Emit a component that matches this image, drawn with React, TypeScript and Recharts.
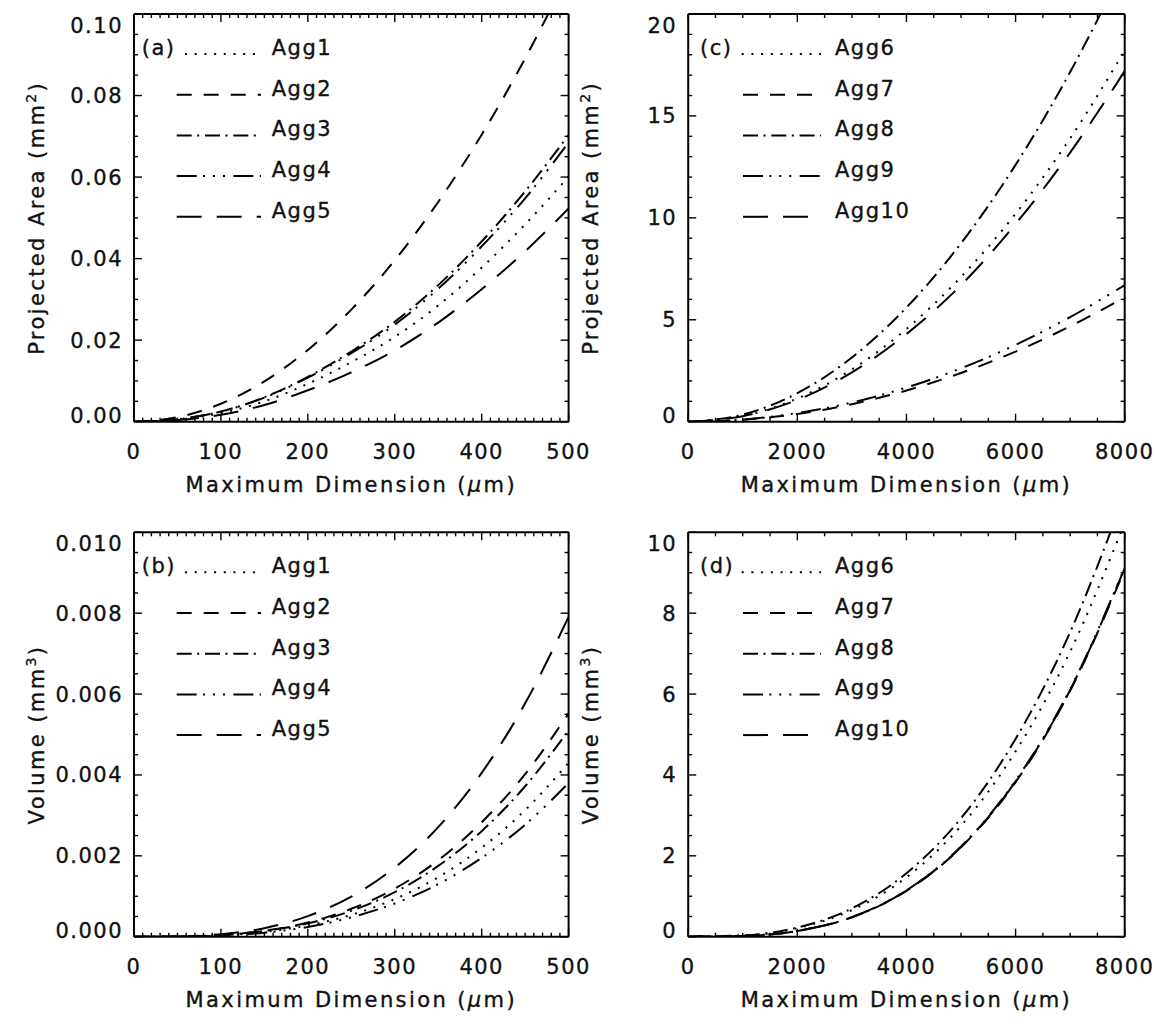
import React from 'react';
import { LineChart, Line, XAxis, YAxis, Legend } from 'recharts';

const FONT = '"DejaVu Sans", "Liberation Sans", sans-serif';

// maximum dimension samples (µm)
const dimSmall = [0, 50, 100, 150, 200, 250, 300, 350, 400, 450, 500];
const dimLarge = [0, 1000, 2000, 3000, 4000, 5000, 6000, 7000, 8000];

// (a) projected area, mm^2
const areaAgg1 = [0, 0.0005, 0.0021, 0.005, 0.0093, 0.0146, 0.0208, 0.0285, 0.0378, 0.0484, 0.0601];
const areaAgg2 = [0, 0.0011, 0.0044, 0.0099, 0.0176, 0.0275, 0.0396, 0.0539, 0.0704, 0.0891, 0.11];
const areaAgg3 = [0, 0.0006, 0.0025, 0.006, 0.011, 0.0172, 0.0245, 0.0335, 0.0442, 0.0565, 0.0703];
const areaAgg4 = [0, 0.0006, 0.0025, 0.0059, 0.0108, 0.0168, 0.0238, 0.0326, 0.043, 0.0548, 0.0685];
const areaAgg5 = [0, 0.0004, 0.0017, 0.0041, 0.0077, 0.0121, 0.0175, 0.0243, 0.0325, 0.0418, 0.0523];

// (b) volume, mm^3
const volAgg1 = [0, 0.000005, 0.00004, 0.00012, 0.00028, 0.00054, 0.00093, 0.00147, 0.0022, 0.00313, 0.0043];
const volAgg2 = [0, 0.000006, 0.00004, 0.00015, 0.00035, 0.00069, 0.00119, 0.00189, 0.00283, 0.00402, 0.00552];
const volAgg3 = [0, 0.000005, 0.00004, 0.00014, 0.00033, 0.00064, 0.0011, 0.00175, 0.00261, 0.00372, 0.0051];
const volAgg4 = [0, 0.000004, 0.00003, 0.0001, 0.00024, 0.00048, 0.00082, 0.0013, 0.00195, 0.00277, 0.0038];
const volAgg5 = [0, 0.00001, 0.00006, 0.00021, 0.00051, 0.00099, 0.00171, 0.00271, 0.00405, 0.00577, 0.00791];

// (c) projected area, mm^2
const areaAgg6 = [0, 0.28, 1.14, 2.56, 4.55, 7.1, 10.2, 13.9, 18.2];
const areaAgg7 = [0, 0.1, 0.38, 0.86, 1.53, 2.39, 3.44, 4.68, 6.1];
const areaAgg8 = [0, 0.35, 1.4, 3.15, 5.6, 8.75, 12.6, 17.15, 22.4];
const areaAgg9 = [0, 0.105, 0.42, 0.94, 1.675, 2.62, 3.77, 5.13, 6.7];
const areaAgg10 = [0, 0.27, 1.07, 2.42, 4.3, 6.7, 9.7, 13.2, 17.2];

// (d) volume, mm^3
const volAgg6 = [0, 0.03, 0.211, 0.657, 1.47, 2.74, 4.58, 7.05, 10.24];
const volAgg7 = [0, 0.018, 0.141, 0.481, 1.135, 2.21, 3.82, 6.08, 9.08];
const volAgg8 = [0, 0.032, 0.226, 0.7, 1.57, 2.93, 4.89, 7.53, 10.94];
const volAgg9 = [0, 0.018, 0.143, 0.484, 1.145, 2.23, 3.86, 6.12, 9.13];
const volAgg10 = [0, 0.018, 0.142, 0.482, 1.14, 2.22, 3.84, 6.1, 9.11];

// tick labels
const xTicksSmall = [0, 100, 200, 300, 400, 500];
const xTicksLarge = [0, 2000, 4000, 6000, 8000];
const yTicksA = [0, 0.02, 0.04, 0.06, 0.08, 0.1];
const yTicksB = [0, 0.002, 0.004, 0.006, 0.008, 0.01];
const yTicksC = [0, 5, 10, 15, 20];
const yTicksD = [0, 2, 4, 6, 8, 10];

const namesLeft = ['Agg1', 'Agg2', 'Agg3', 'Agg4', 'Agg5'];
const namesRight = ['Agg6', 'Agg7', 'Agg8', 'Agg9', 'Agg10'];

// IDL line styles: dotted, dashed, dash-dot, dash-dot-dot-dot, long dashes
const dashes = ['2 7.7', '15 12', '15 5.5 2 5.8', '20 6.3 2 8 2 8 2 8.4', '25 15'];

// text look: a touch heavier than plain DejaVu, like the vector font of the original
const txt = { fontSize: 21, fontFamily: FONT, fill: '#111', stroke: '#111', strokeWidth: 0.35 };

const buildRows = (xs: number[], series: number[][]) =>
  xs.map((d, i) => {
    const row: Record<string, number> = { d };
    series.forEach((s, k) => (row['s' + k] = s[i]));
    return row;
  });

// majors plus n-1 minor ticks in each interval
const withMinor = (majors: number[], n: number) => {
  const out: number[] = [];
  for (let i = 0; i < majors.length - 1; i++) {
    const a = majors[i];
    const step = (majors[i + 1] - a) / n;
    for (let k = 0; k < n; k++) out.push(Number((a + k * step).toFixed(8)));
  }
  out.push(majors[majors.length - 1]);
  return out;
};

const isIn = (list: number[], v: number) => list.some((m) => Math.abs(m - v) < 1e-9);

const makeTick = (side: string, majors: number[], fmt: (v: number) => string, dom: number[]) => (props: any) => {
  const { x, y, payload } = props;
  const v = payload.value;
  const major = isIn(majors, v);
  const len = major ? 8 : 4;
  const st = { stroke: '#000', strokeWidth: 1.4 };
  let line = null;
  let label = null;
  if (side === 'left') {
    line = <line x1={x} y1={y} x2={x + len} y2={y} {...st} />;
    if (major) {
      const shift = v === dom[1] ? 11 : v === dom[0] ? -6 : 0;
      label = (
        <text x={x - 11} y={y + shift + 7.5} textAnchor="end" {...txt} style={{ letterSpacing: 1.5 }}>
          {fmt(v)}
        </text>
      );
    }
  } else if (side === 'right') {
    line = <line x1={x} y1={y} x2={x - len} y2={y} {...st} />;
  } else if (side === 'top') {
    line = <line x1={x} y1={y} x2={x} y2={y + len} {...st} />;
  } else {
    line = <line x1={x} y1={y} x2={x} y2={y - len} {...st} />;
    if (major) {
      label = (
        <text x={x} y={y + 37} textAnchor="middle" {...txt} style={{ letterSpacing: 1.5 }}>
          {fmt(v)}
        </text>
      );
    }
  }
  return (
    <g>
      {line}
      {label}
    </g>
  );
};

interface PanelProps {
  tag: string;
  rows: Record<string, number>[];
  names: string[];
  xMajor: number[];
  xMinorN: number;
  yMajor: number[];
  yMinorN: number;
  yFmt: (v: number) => string;
  yTitle: string;
  sup: string;
  left: number;
  top: number;
  width: number;
  height: number;
  margin: { top: number; right: number; bottom: number; left: number };
  plotLeft: number; // relative to chart
  plotTop: number;
  plotH: number;
  plotW: number;
  leg: { label: number; first: number; start: number; end: number; text: number };
}

const Panel = (p: PanelProps) => {
  const xDom = [p.xMajor[0], p.xMajor[p.xMajor.length - 1]];
  const yDom = [p.yMajor[0], p.yMajor[p.yMajor.length - 1]];
  const xTicks = withMinor(p.xMajor, p.xMinorN);
  const yTicks = withMinor(p.yMajor, p.yMinorN);
  const axisLine = { stroke: '#000', strokeWidth: 2 };
  const xFmt = (v: number) => String(v);

  const renderLegend = () => {
    const base = p.plotTop + 41;
    return (
      <svg width={p.width} height={260} style={{ display: 'block' }}>
        <text x={p.leg.label} y={base} {...txt} style={{ letterSpacing: 1.5 }}>
          ({p.tag})
        </text>
        {p.names.map((n, i) => (
          <g key={n}>
            <line
              x1={i === 0 ? p.leg.first : p.leg.start}
              x2={p.leg.end}
              y1={base + i * 40.7 - 1}
              y2={base + i * 40.7 - 1}
              stroke="#000"
              strokeWidth={2}
              strokeDasharray={dashes[i]}
            />
            <text x={p.leg.text} y={base + i * 40.7} {...txt} style={{ letterSpacing: 1.5 }}>
              {n}
            </text>
          </g>
        ))}
      </svg>
    );
  };

  const xTitle = () => (
    <text
      x={p.plotLeft + p.plotW / 2}
      y={p.plotTop + p.plotH + 70}
      textAnchor="middle"
      {...txt}
      style={{ letterSpacing: 2.4 }}
    >
      Maximum Dimension (<tspan fontStyle="italic">μ</tspan>m)
    </text>
  );

  const yTitle = () => {
    const cx = p.plotLeft - 90;
    const cy = p.plotTop + p.plotH / 2;
    return (
      <text
        x={cx}
        y={cy}
        transform={`rotate(-90 ${cx} ${cy})`}
        textAnchor="middle"
        {...txt}
        style={{ letterSpacing: 2.4 }}
      >
        {p.yTitle} (mm
        <tspan dy={-8} fontSize={14}>
          {p.sup}
        </tspan>
        <tspan dy={8}>)</tspan>
      </text>
    );
  };

  return (
    <div style={{ position: 'absolute', left: p.left, top: p.top }}>
      <LineChart width={p.width} height={p.height} data={p.rows} margin={p.margin}>
        <XAxis
          dataKey="d"
          type="number"
          domain={xDom}
          ticks={xTicks}
          interval={0}
          allowDataOverflow
          height={90}
          tickSize={0}
          tickMargin={0}
          tickLine={false}
          axisLine={axisLine}
          tick={makeTick('bottom', p.xMajor, xFmt, xDom)}
          label={xTitle}
        />
        <XAxis
          xAxisId="top"
          orientation="top"
          dataKey="d"
          type="number"
          domain={xDom}
          ticks={xTicks}
          interval={0}
          allowDataOverflow
          height={1}
          tickSize={0}
          tickMargin={0}
          tickLine={false}
          axisLine={axisLine}
          tick={makeTick('top', p.xMajor, xFmt, xDom)}
        />
        <YAxis
          type="number"
          domain={yDom}
          ticks={yTicks}
          interval={0}
          allowDataOverflow
          width={p.plotLeft - p.margin.left}
          tickSize={0}
          tickMargin={0}
          tickLine={false}
          axisLine={axisLine}
          tick={makeTick('left', p.yMajor, p.yFmt, yDom)}
          label={yTitle}
        />
        <YAxis
          yAxisId="right"
          orientation="right"
          type="number"
          domain={yDom}
          ticks={yTicks}
          interval={0}
          allowDataOverflow
          width={1}
          tickSize={0}
          tickMargin={0}
          tickLine={false}
          axisLine={axisLine}
          tick={makeTick('right', p.yMajor, p.yFmt, yDom)}
        />
        <Legend
          layout="vertical"
          align="center"
          verticalAlign="middle"
          content={renderLegend}
          wrapperStyle={{ position: 'absolute', left: 0, top: 0, width: p.width, height: 260 }}
        />
        {p.names.map((n, i) => (
          <Line
            key={n}
            dataKey={'s' + i}
            name={n}
            type="monotone"
            stroke="#000"
            strokeWidth={2}
            strokeDasharray={dashes[i]}
            dot={false}
            activeDot={false}
            isAnimationActive={false}
          />
        ))}
      </LineChart>
    </div>
  );
};

const legLeft = { label: 141.7, first: 185, start: 176.7, end: 261, text: 271.7 };
const legRight = { label: 146, first: 187.7, start: 189, end: 267, text: 281 };

export default function App() {
  const rowsA = buildRows(dimSmall, [areaAgg1, areaAgg2, areaAgg3, areaAgg4, areaAgg5]);
  const rowsB = buildRows(dimSmall, [volAgg1, volAgg2, volAgg3, volAgg4, volAgg5]);
  const rowsC = buildRows(dimLarge, [areaAgg6, areaAgg7, areaAgg8, areaAgg9, areaAgg10]);
  const rowsD = buildRows(dimLarge, [volAgg6, volAgg7, volAgg8, volAgg9, volAgg10]);

  const topM = { top: 13, bottom: 3.3 };
  const botM = { top: 13.3, bottom: 1.3 };

  return (
    <div style={{ position: 'absolute', left: 0, top: 0, width: 1159, height: 1025, overflow: 'hidden', background: '#fff' }}>
      <Panel
        tag="a"
        rows={rowsA}
        names={namesLeft}
        xMajor={xTicksSmall}
        xMinorN={10}
        yMajor={yTicksA}
        yMinorN={4}
        yFmt={(v) => v.toFixed(2)}
        yTitle="Projected Area"
        sup="2"
        left={0}
        top={0}
        width={600}
        height={515}
        margin={{ ...topM, left: 0, right: 30.4 }}
        plotLeft={134}
        plotTop={14}
        plotW={434.6}
        plotH={407.7}
        leg={legLeft}
      />
      <Panel
        tag="c"
        rows={rowsC}
        names={namesRight}
        xMajor={xTicksLarge}
        xMinorN={4}
        yMajor={yTicksC}
        yMinorN={5}
        yFmt={(v) => String(v)}
        yTitle="Projected Area"
        sup="2"
        left={554}
        top={0}
        width={605}
        height={515}
        margin={{ ...topM, left: 0.2, right: 33.3 }}
        plotLeft={134.2}
        plotTop={14}
        plotW={436.5}
        plotH={407.7}
        leg={legRight}
      />
      <Panel
        tag="b"
        rows={rowsB}
        names={namesLeft}
        xMajor={xTicksSmall}
        xMinorN={10}
        yMajor={yTicksB}
        yMinorN={4}
        yFmt={(v) => v.toFixed(3)}
        yTitle="Volume"
        sup="3"
        left={0}
        top={518}
        width={600}
        height={510}
        margin={{ ...botM, left: 0, right: 30.4 }}
        plotLeft={134}
        plotTop={14.3}
        plotW={434.6}
        plotH={404.4}
        leg={legLeft}
      />
      <Panel
        tag="d"
        rows={rowsD}
        names={namesRight}
        xMajor={xTicksLarge}
        xMinorN={4}
        yMajor={yTicksD}
        yMinorN={4}
        yFmt={(v) => String(v)}
        yTitle="Volume"
        sup="3"
        left={554}
        top={518}
        width={605}
        height={510}
        margin={{ ...botM, left: 0.2, right: 33.3 }}
        plotLeft={134.2}
        plotTop={14.3}
        plotW={436.5}
        plotH={404.4}
        leg={legRight}
      />
    </div>
  );
}
